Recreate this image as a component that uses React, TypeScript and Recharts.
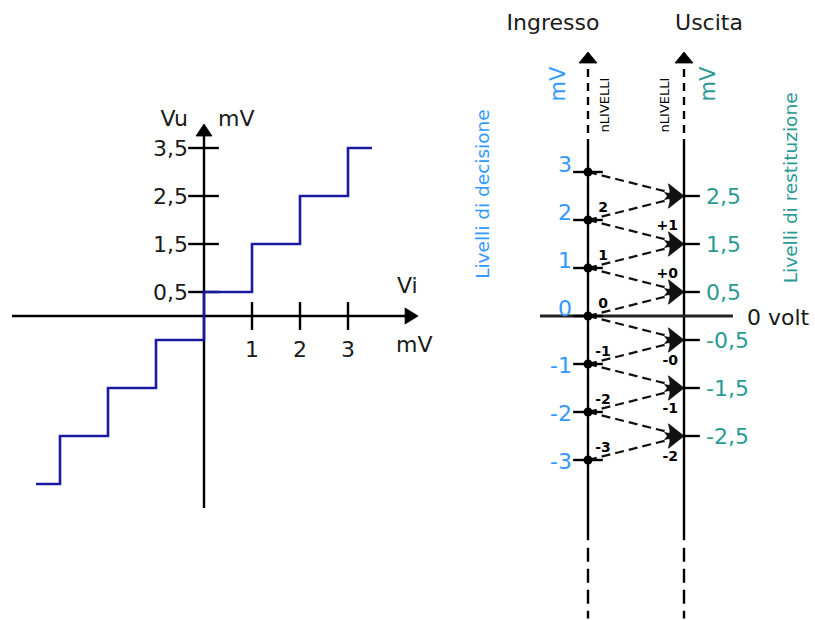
import React from 'react';
import { ComposedChart, XAxis, YAxis, Line, Scatter, ReferenceLine } from 'recharts';

const FONT = '"DejaVu Sans", Verdana, sans-serif';
const BLUE = '#3399ff';
const TEAL = '#2a9a95';
const NAVY = '#1a1aa0';
const INK = '#000000';
const TEXT = '#1a1a1a';

// ---- left panel: quantizer characteristic Vu(Vi) ----
const stepInput = [-3.5, -3, -2, -1, 0, 1, 2, 3, 3.5];
const stepOutput = [-3.5, -2.5, -1.5, -0.5, 0.5, 1.5, 2.5, 3.5, 3.5];
const outTicks = [0.5, 1.5, 2.5, 3.5];
const outTickLabels = ['0,5', '1,5', '2,5', '3,5'];
const inTicks = [1, 2, 3];
const inTickLabels = ['1', '2', '3'];

// ---- right panel: decision / restitution levels ----
const decisionLevels = [3, 2, 1, 0, -1, -2, -3];
const decisionLabels = ['3', '2', '1', '0', '-1', '-2', '-3'];
const restitutionLevels = [2.5, 1.5, 0.5, -0.5, -1.5, -2.5];
const restitutionLabels = ['2,5', '1,5', '0,5', '-0,5', '-1,5', '-2,5'];
const inputLevelNumbers = ['', '2', '1', '0', '-1', '-2', '-3'];
const outputLevelNumbers = ['', '+1', '+0', '-0', '-1', '-2'];
const transitionFrom = [3, 2, 2, 1, 1, 0, 0, -1, -1, -2, -2, -3];
const transitionTo = [2.5, 2.5, 1.5, 1.5, 0.5, 0.5, -0.5, -0.5, -1.5, -1.5, -2.5, -2.5];

// chart frame (data units, 48 px per unit)
const W = 815;
const H = 620;
const X_MIN = -4.25;
const X_MAX = -4.25 + W / 48;
const Y_MIN = -304 / 48;
const Y_MAX = 316 / 48;
const AXIS_IN = 8;
const AXIS_OUT = 10;

type Pt = { x: number; y: number };
type T = { x: number; y: number; text: string };
type TextStyle = {
  dx?: number;
  dy?: number;
  anchor?: 'start' | 'middle' | 'end';
  size: number;
  fill: string;
  weight?: number | string;
  rotate?: boolean;
};

const arrowShape = (opts: { dash?: string; len?: number; half?: number; head?: boolean; notch?: number; width?: number }) => (p: any) => {
  const { x1, y1, x2, y2 } = p;
  const len = opts.len ?? 13;
  const half = opts.half ?? 7;
  const notch = opts.notch ?? 0;
  const dx = x2 - x1;
  const dy = y2 - y1;
  const L = Math.hypot(dx, dy) || 1;
  const ux = dx / L;
  const uy = dy / L;
  const nx = -uy;
  const ny = ux;
  const bx = x2 - ux * len;
  const by = y2 - uy * len;
  const mx = x2 - ux * (len - notch);
  const my = y2 - uy * (len - notch);
  const pts = [
    [x2, y2],
    [bx + nx * half, by + ny * half],
    [mx, my],
    [bx - nx * half, by - ny * half],
  ]
    .map((q) => q.join(','))
    .join(' ');
  const noHead = opts.head === false;
  return (
    <g>
      <line
        x1={x1}
        y1={y1}
        x2={noHead ? x2 : mx + ux * 1}
        y2={noHead ? y2 : my + uy * 1}
        stroke={p.stroke}
        strokeWidth={opts.width ?? 2.4}
        strokeDasharray={opts.dash}
      />
      {noHead ? null : <polygon points={pts} fill={p.stroke} stroke={p.stroke} strokeWidth={0.8} strokeLinejoin="miter" />}
    </g>
  );
};

function seg(key: string, a: Pt, b: Pt, width = 2.4, stroke = INK, shape?: any) {
  return (
    <ReferenceLine
      key={key}
      segment={[a, b]}
      stroke={stroke}
      strokeWidth={width}
      ifOverflow="visible"
      shape={shape}
    />
  );
}

function texts(key: string, data: T[], s: TextStyle) {
  return (
    <Scatter
      key={key}
      data={data}
      isAnimationActive={false}
      shape={(p: any) => {
        const x = p.cx + (s.dx ?? 0);
        const y = p.cy + (s.dy ?? 0);
        return (
          <text
            x={x}
            y={y}
            textAnchor={s.anchor ?? 'start'}
            fontSize={s.size}
            fill={s.fill}
            fontWeight={s.weight ?? 'normal'}
            fontFamily={FONT}
            dominantBaseline={s.rotate ? 'central' : undefined}
            transform={s.rotate ? `rotate(-90 ${x} ${y})` : undefined}
          >
            {p.payload.text}
          </text>
        );
      }}
    />
  );
}

export default function App() {
  const stepData = stepInput.map((x, i) => ({ x, y: stepOutput[i] }));
  const dots = decisionLevels.map((k) => ({ x: AXIS_IN, y: k }));

  const elements: React.ReactNode[] = [];

  // left axes with arrows
  elements.push(seg('xaxis', { x: -4, y: 0 }, { x: 4.46, y: 0 }, 2.4, INK, arrowShape({ len: 13, half: 8 })));
  elements.push(seg('yaxis', { x: 0, y: -4 }, { x: 0, y: 4.0 }, 2.4, INK, arrowShape({ len: 12, half: 8 })));
  outTicks.forEach((v, i) => elements.push(seg('yt' + i, { x: -0.33, y: v }, { x: 0.31, y: v })));
  inTicks.forEach((v, i) => elements.push(seg('xt' + i, { x: v, y: -0.29 }, { x: v, y: 0.29 })));

  // right: vertical axes
  [AXIS_IN, AXIS_OUT].forEach((a, i) => {
    elements.push(seg('vs' + i, { x: a, y: -4.67 }, { x: a, y: 3.52 }));
    elements.push(seg('vu' + i, { x: a, y: 3.52 }, { x: a, y: 5.5 }, 2.4, INK, arrowShape({ dash: '8 6', len: 11, half: 9 })));
    elements.push(seg('vd' + i, { x: a, y: -4.83 }, { x: a, y: -6.3 }, 2.4, INK, arrowShape({ dash: '14 7', head: false })));
  });
  // zero volt line
  elements.push(seg('zero', { x: 7, y: 0 }, { x: 11.02, y: 0 }, 2.8, '#222222'));
  // decision ticks
  decisionLevels.forEach((k, i) => elements.push(seg('dt' + i, { x: AXIS_IN - 0.31, y: k }, { x: AXIS_IN + 0.31, y: k })));
  // restitution ticks
  restitutionLevels.forEach((v, i) => elements.push(seg('rt' + i, { x: AXIS_OUT, y: v }, { x: AXIS_OUT + 0.33, y: v })));
  // transitions
  transitionFrom.forEach((f, i) =>
    elements.push(
      seg('tr' + i, { x: AXIS_IN, y: f }, { x: AXIS_OUT, y: transitionTo[i] }, 2.4, '#111111', arrowShape({ dash: '9 5', len: 18, half: 8, notch: 4, width: 2.2 }))
    )
  );

  const decPos = decisionLevels
    .map((k, i) => ({ x: AXIS_IN, y: k, text: decisionLabels[i] }))
    .filter((d) => d.y >= 0);
  const decNeg = decisionLevels
    .map((k, i) => ({ x: AXIS_IN, y: k, text: decisionLabels[i] }))
    .filter((d) => d.y < 0);
  const inNums = decisionLevels
    .map((k, i) => ({ x: AXIS_IN, y: k, text: inputLevelNumbers[i] }))
    .filter((d) => d.text !== '');
  const outNumsAbove = restitutionLevels
    .map((v, i) => ({ x: AXIS_OUT, y: v, text: outputLevelNumbers[i] }))
    .filter((d) => d.text !== '' && d.y > 0);
  const outNumsBelow = restitutionLevels
    .map((v, i) => ({ x: AXIS_OUT, y: v, text: outputLevelNumbers[i] }))
    .filter((d) => d.text !== '' && d.y < 0);

  return (
    <div style={{ position: 'absolute', left: 0, top: 0, width: W, height: H, background: '#fff' }}>
      <ComposedChart width={W} height={H} margin={{ top: 0, right: 0, bottom: 0, left: 0 }}>
        <XAxis type="number" dataKey="x" domain={[X_MIN, X_MAX]} allowDataOverflow hide />
        <YAxis type="number" dataKey="y" domain={[Y_MIN, Y_MAX]} allowDataOverflow hide />
        {elements}
        <Line
          data={stepData}
          dataKey="y"
          type="stepAfter"
          stroke={NAVY}
          strokeWidth={2.6}
          dot={false}
          activeDot={false}
          isAnimationActive={false}
        />
        <Scatter
          data={dots}
          isAnimationActive={false}
          shape={(p: any) => <circle cx={p.cx} cy={p.cy} r={4.5} fill={INK} />}
        />
        {texts('ytl', outTicks.map((v, i) => ({ x: 0, y: v, text: outTickLabels[i] })), { anchor: 'end', dx: -16, dy: 8, size: 22, fill: TEXT })}
        {texts('xtl', inTicks.map((v, i) => ({ x: v, y: 0, text: inTickLabels[i] })), { anchor: 'middle', dy: 41, size: 22, fill: TEXT })}
        {texts('vi', [{ x: 4, y: 0, text: 'Vi' }], { dx: 1, dy: -23, size: 22, fill: TEXT })}
        {texts('mvx', [{ x: 4, y: 0, text: 'mV' }], { dx: 0, dy: 36, size: 22, fill: TEXT })}
        {texts('vu', [{ x: 0, y: 4, text: 'Vu' }], { anchor: 'end', dx: -16, dy: 2, size: 22, fill: TEXT })}
        {texts('mvy', [{ x: 0, y: 4, text: 'mV' }], { dx: 14, dy: 2, size: 22, fill: TEXT })}
        {texts('ingr', [{ x: AXIS_IN, y: 5.5, text: 'Ingresso' }], { anchor: 'middle', dx: -35, dy: -22, size: 22, fill: TEXT })}
        {texts('usc', [{ x: AXIS_OUT, y: 5.5, text: 'Uscita' }], { anchor: 'middle', dx: 25, dy: -22, size: 22, fill: TEXT })}
        {texts('decp', decPos, { anchor: 'end', dx: -16, dy: 0, size: 22, fill: BLUE })}
        {texts('decn', decNeg, { anchor: 'end', dx: -16, dy: 9, size: 22, fill: BLUE })}
        {texts('rest', restitutionLevels.map((v, i) => ({ x: AXIS_OUT, y: v, text: restitutionLabels[i] })), { dx: 22, dy: 8, size: 22, fill: TEAL })}
        {texts('inn', inNums, { anchor: 'middle', dx: 15, dy: -8, size: 14, fill: INK, weight: 'bold' })}
        {texts('outa', outNumsAbove, { anchor: 'end', dx: -6, dy: -14, size: 14, fill: INK, weight: 'bold' })}
        {texts('outb', outNumsBelow, { anchor: 'end', dx: -6, dy: 25, size: 14, fill: INK, weight: 'bold' })}
        {texts('volt', [{ x: 11.02, y: 0, text: '0 volt' }], { dx: 14, dy: 9, size: 22, fill: TEXT })}
        {texts('mvin', [{ x: AXIS_IN, y: 5.5, text: 'mV' }], { anchor: 'middle', dx: -30, dy: 32, size: 21, fill: BLUE, rotate: true })}
        {texts('mvout', [{ x: AXIS_OUT, y: 5.5, text: 'mV' }], { anchor: 'middle', dx: 24, dy: 32, size: 21, fill: TEAL, rotate: true })}
        {texts('nlin', [{ x: AXIS_IN, y: 5.5, text: 'nLIVELLI' }], { anchor: 'middle', dx: 16, dy: 53, size: 13, fill: INK, rotate: true })}
        {texts('nlout', [{ x: AXIS_OUT, y: 5.5, text: 'nLIVELLI' }], { anchor: 'middle', dx: -20, dy: 53, size: 13, fill: INK, rotate: true })}
        {texts('ldec', [{ x: 5.81, y: 2.54, text: 'Livelli di decisione' }], { anchor: 'middle', size: 18.5, fill: BLUE, rotate: true })}
        {texts('lres', [{ x: 12.21, y: 2.67, text: 'Livelli di restituzione' }], { anchor: 'middle', size: 18.5, fill: TEAL, rotate: true })}
      </ComposedChart>
    </div>
  );
}
